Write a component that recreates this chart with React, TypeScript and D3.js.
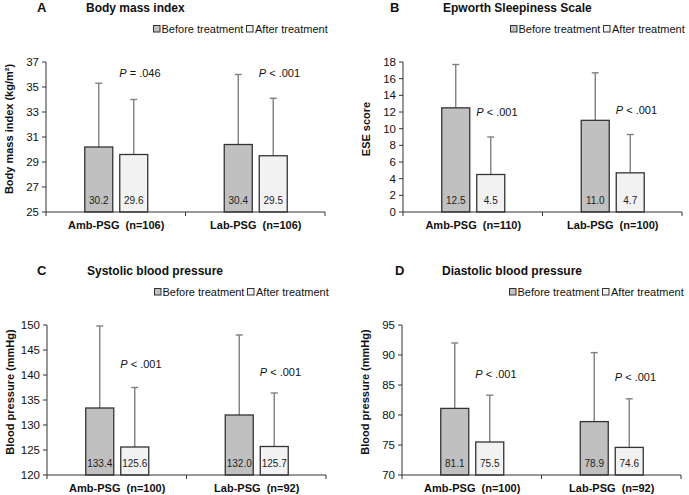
import React from "react";
import * as d3 from "d3";

const groups = ["Amb-PSG", "Lab-PSG"];
const series = ["Before treatment", "After treatment"];
const panelLetters = ["A", "B", "C", "D"];
const panelTitles = ["Body mass index", "Epworth Sleepiness Scale", "Systolic blood pressure", "Diastolic blood pressure"];
const yTitles = ["Body mass index (kg/m\u00B2)", "ESE score", "Blood pressure (mmHg)", "Blood pressure (mmHg)"];
const groupNs = [[106, 106], [110, 100], [100, 92], [100, 92]];
const yDomains = [[25, 37], [0, 18], [120, 150], [70, 95]];
const yTickSteps = [2, 2, 5, 5];
const beforeMeans = [[30.2, 30.4], [12.5, 11.0], [133.4, 132.0], [81.1, 78.9]];
const afterMeans = [[29.6, 29.5], [4.5, 4.7], [125.6, 125.7], [75.5, 74.6]];
const beforeSD = [[5.1, 5.6], [5.2, 5.7], [16.4, 16.0], [10.9, 11.5]];
const afterSD = [[4.4, 4.6], [4.5, 4.6], [11.9, 10.7], [7.8, 8.1]];
const pTexts = [["= .046", "< .001"], ["< .001", "< .001"], ["< .001", "< .001"], ["< .001", "< .001"]];
const pAnchorY = [[36.1, 36.1], [12.0, 12.2], [142.2, 140.6], [86.9, 86.3]];

const offsets = [[0, 0], [357, 0], [1, 263], [356, 263]];
const letterX = [37, 33, 36, 39];
const X0 = 46, X1 = 325, YT = 62, YB = 212;
const FONT = "'Liberation Sans', Arial, sans-serif";
const colors = ["#c0c0c0", "#f2f2f2"];

function Panel({ i }: { i: number }) {
  const [ox, oy] = offsets[i];
  const y = d3.scaleLinear().domain(yDomains[i]).range([YB, YT]);
  const ticks = d3.range(yDomains[i][0], yDomains[i][1] + 0.001, yTickSteps[i]);
  const xb = d3.scaleBand().domain(groups).range([X0, X1]);
  const inner = d3.scaleBand().domain(series).range([-31.5, 31.5]).paddingInner(0.2);
  const fmt = d3.format(".1f");
  const means = [beforeMeans[i], afterMeans[i]];
  const sds = [beforeSD[i], afterSD[i]];
  return (
    <g transform={`translate(${ox},${oy})`} fontFamily={FONT}>
      <text x={letterX[i]} y={12} fontSize={13} fontWeight="bold" fill="#111">{panelLetters[i]}</text>
      <text x={86} y={11.5} fontSize={12} fontWeight="bold" fill="#111">{panelTitles[i]}</text>
      {/* legend */}
      <g fontSize={11} fill="#111">
        <rect x={153.5} y={25.5} width={6.5} height={6.5} fill={colors[0]} stroke="#333" strokeWidth={1} />
        <text x={161.5} y={33}>{series[0]}</text>
        <rect x={246.5} y={25.5} width={6.5} height={6.5} fill={colors[1]} stroke="#333" strokeWidth={1} />
        <text x={255} y={33}>{series[1]}</text>
      </g>
      {/* y axis */}
      <line x1={X0} x2={X0} y1={YT} y2={YB} stroke="#333" strokeWidth={1} />
      {ticks.map((t) => (
        <g key={t}>
          <line x1={X0 - 4} x2={X0} y1={y(t)} y2={y(t)} stroke="#333" strokeWidth={1} />
          <text x={X0 - 7} y={y(t) + 4} fontSize={11.5} textAnchor="end" fill="#111">{t}</text>
        </g>
      ))}
      <text transform={`translate(13,129) rotate(-90)`} textAnchor="middle" fontSize={11} fontWeight="bold" fill="#111">{yTitles[i]}</text>
      {/* bars */}
      {groups.map((g, gi) => {
        const c = (xb(g) as number) + xb.bandwidth() / 2 + 0.5;
        return (
          <g key={g}>
            {series.map((s, si) => {
              const bx = c + (inner(s) as number);
              const bw = inner.bandwidth();
              const m = means[si][gi];
              const top = m + sds[si][gi];
              return (
                <g key={s}>
                  <line x1={bx + bw / 2} x2={bx + bw / 2} y1={y(m)} y2={y(top)} stroke="#808080" strokeWidth={1.4} />
                  <line x1={bx + bw / 2 - 3.5} x2={bx + bw / 2 + 3.5} y1={y(top)} y2={y(top)} stroke="#808080" strokeWidth={1.4} />
                  <rect x={bx} y={y(m)} width={bw} height={YB - y(m)} fill={colors[si]} stroke="#333" strokeWidth={1.3} />
                  <text x={bx + bw / 2} y={YB - 8.5} fontSize={10} textAnchor="middle" fill="#222">{fmt(m)}</text>
                </g>
              );
            })}
            <text x={c + 3} y={y(pAnchorY[i][gi]) + 4} fontSize={11} fill="#111" style={{ whiteSpace: "pre" }}>
              <tspan fontStyle="italic">P</tspan>{" " + pTexts[i][gi]}
            </text>
            <text x={c} y={229} fontSize={11} fontWeight="bold" textAnchor="middle" fill="#111" style={{ whiteSpace: "pre" }}>
              {`${g}  (n=${groupNs[i][gi]})`}
            </text>
          </g>
        );
      })}
      {/* x axis */}
      <line x1={X0} x2={X1} y1={YB} y2={YB} stroke="#333" strokeWidth={1} />
      {[X0, (xb("Lab-PSG") as number), X1].map((tx, k) => (
        <line key={k} x1={tx} x2={tx} y1={YB} y2={YB + 4} stroke="#333" strokeWidth={1} />
      ))}
    </g>
  );
}

export default function App() {
  return (
    <svg width={689} height={495} style={{ position: "absolute", left: 0, top: 0, background: "#fff" }}>
      <rect width={689} height={495} fill="#fff" />
      {[0, 1, 2, 3].map((i) => (
        <Panel key={i} i={i} />
      ))}
    </svg>
  );
}
